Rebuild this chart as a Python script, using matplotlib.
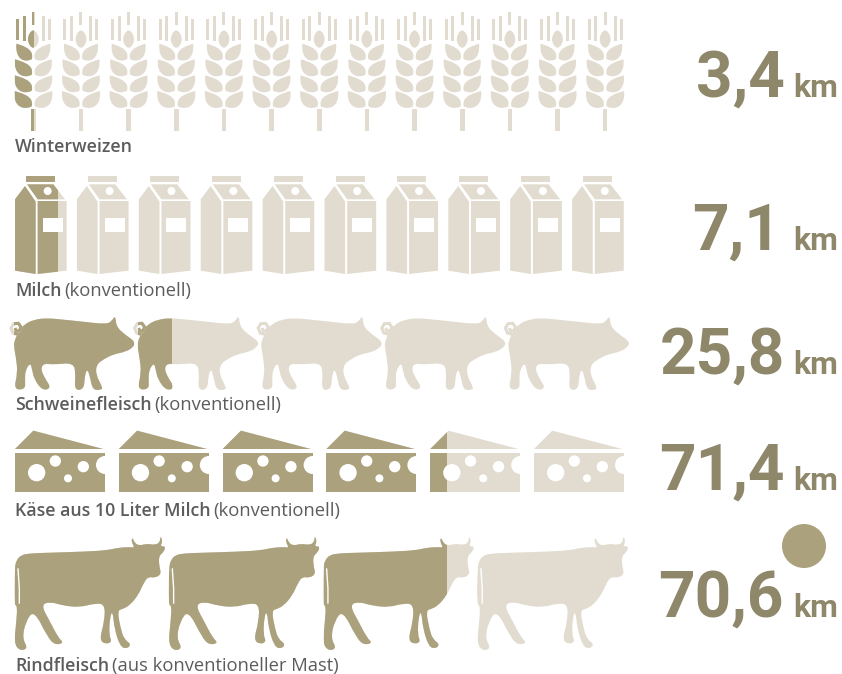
import matplotlib
matplotlib.use("Agg")
import matplotlib.pyplot as plt
from matplotlib.patches import Rectangle, Circle, PathPatch
from matplotlib.path import Path
from matplotlib.transforms import Affine2D

names_bold = ["Winterweizen", "Milch", "Schweinefleisch", "Käse aus 10 Liter Milch", "Rindfleisch"]
names_light = ["", "(konventionell)", "(konventionell)", "(konventionell)", "(aus konventioneller Mast)"]
values = ["3,4", "7,1", "25,8", "71,4", "70,6"]
unit = "km"
icon_counts = [13, 10, 5, 6, 4]
icon_fill = [0.50, 0.83, 1.29, 4.19, 2.82]

DARK, LIGHT, NUM, TXT = "#ABA17D", "#E1DCCF", "#8F8769", "#5C5C5C"
FONT = "Roboto"
LABEL_FONT = "Open Sans"

fig = plt.figure(figsize=(8.42, 6.74), dpi=100)
ax = fig.add_axes([0, 0, 1, 1])
ax.set_xlim(0, 842); ax.set_ylim(674, 0); ax.axis("off")


def smooth(pts):
    """Closed outline with rounded joins."""
    pts = pts[:-1] if pts[0] == pts[-1] else pts
    n = len(pts)
    mid = lambda a, b: ((a[0] + b[0]) / 2, (a[1] + b[1]) / 2)
    verts = [mid(pts[-1], pts[0])]
    codes = [Path.MOVETO]
    for i in range(n):
        verts += [pts[i], mid(pts[i], pts[(i + 1) % n])]
        codes += [Path.CURVE3, Path.CURVE3]
    verts.append(verts[0]); codes.append(Path.CLOSEPOLY)
    return Path(verts, codes)


def leaf(y0, side, wide):
    x = lambda v: 100 + side * v * wide
    verts = [(x(55), y0), (x(34), y0 + 6), (x(10), y0 + 14), (x(5), y0 + 30),
             (x(3), y0 + 38), (x(3), y0 + 44), (x(6), y0 + 47),
             (x(30), y0 + 58), (x(60), y0 + 46), (x(55), y0), (x(55), y0)]
    codes = [Path.MOVETO] + [Path.CURVE4] * 9 + [Path.CLOSEPOLY]
    return Path(verts, codes)


def bar(x, y0, y1, w=9):
    r = w / 2
    return Path([(x - r, y0), (x + r, y0), (x + r, y1), (x - r, y1), (x - r, y0)], closed=True)


wheat = [bar(52, 57, 120), bar(72, 47, 122), bar(100, 35, 76), bar(130, 47, 122), bar(148, 57, 120),
         smooth([(100, 82), (122, 118), (100, 152), (78, 118)]),
         bar(100, 326, 394, 14)]
for yy, ww in zip([131, 178, 226, 273], [.92, 1.0, 1.02, 1.03]):
    wheat += [leaf(yy, -1, ww), leaf(yy, 1, ww)]

milk = [Path([(45, 598), (75, 558), (107, 605), (107, 822), (45, 812), (45, 598)], closed=True),
        Path([(113, 603), (200, 603), (200, 812), (113, 822), (113, 603)], closed=True),
        Path([(81, 553), (160, 553), (195, 598), (113, 598), (81, 553)], closed=True),
        Path([(78, 528), (165, 528), (165, 546), (78, 546), (78, 528)], closed=True)]
milk_white = [("c", 143, 573, 12), ("r", 128, 655, 60, 42)]

pig_crop = [(11, 100), (14, 85), (26, 58), (44, 36), (72, 23), (110, 18), (160, 23), (210, 28), (290, 37),
            (306, 26), (316, 10), (319, 44), (345, 68), (376, 89), (370, 106), (345, 120), (310, 127), (282, 141),
            (259, 158), (258, 190), (278, 226), (274, 234), (248, 234), (240, 195), (232, 170), (224, 192), (222, 232),
            (193, 235), (197, 185), (190, 152), (130, 158), (102, 154), (92, 170), (104, 198), (124, 228), (98, 236),
            (73, 203), (66, 172), (61, 152), (46, 175), (45, 205), (46, 232), (11, 233), (23, 182), (18, 138), (11, 100)]
pig_xy = [(x + 30, y + 36) for x, y in pig_crop]
pig = [smooth(pig_xy)]
tail = Path([(54, 103), (39, 99), (33, 84), (41, 71), (55, 70), (63, 81), (58, 93), (48, 92), (45, 84)])

cheese = [Path([(45, 447), (100, 392), (310, 447), (45, 447)], closed=True),
          Path([(45, 458), (315, 458), (315, 575), (45, 575), (45, 458)], closed=True)]
cheese_white = [("c", 110, 518, 26), ("c", 166, 483, 17), ("c", 250, 500, 17), ("c", 204, 535, 12), ("c", 315, 495, 27)]

cow_xy = [(44, 125), (50, 105), (63, 90), (90, 85), (150, 83), (250, 80), (320, 76), (355, 68), (392, 66), (404, 68),
          (394, 50), (397, 36), (404, 54), (418, 62), (440, 56), (465, 60), (480, 52), (481, 31), (488, 50), (480, 65),
          (497, 63), (492, 80), (476, 94), (478, 125), (484, 147), (465, 159), (445, 155), (432, 172), (414, 212),
          (388, 242), (368, 252), (352, 257), (362, 310), (372, 342), (394, 358), (380, 372), (360, 364), (343, 310),
          (338, 258), (330, 275), (327, 330), (336, 350), (318, 358), (298, 345), (313, 290), (315, 238), (285, 235),
          (240, 247), (190, 242), (150, 230), (123, 240), (150, 290), (175, 338), (192, 354), (165, 360), (143, 337),
          (102, 255), (77, 290), (67, 340), (84, 370), (60, 378), (42, 355), (49, 290), (52, 242), (42, 240), (44, 125)]
cow = [smooth(cow_xy)]
cow_tail = Path([(54, 130), (58, 190), (58, 236)])

# shapes are outlined in 3x zoom units; each row has its own origin and pitch
rows = [
    dict(shapes=wheat, white=[], left=15, width=37, pitch=47.65, dy=0),
    dict(shapes=milk, white=milk_white, left=15, width=52, pitch=61.9, dy=0),
    dict(shapes=pig, white=[], left=14, width=120, pitch=123.6, dy=300, line=tail, lc=None),
    dict(shapes=cheese, white=cheese_white, left=15, width=90, pitch=103.8, dy=300),
    dict(shapes=cow, white=[], left=15, width=150, pitch=154.3, dy=525, line=cow_tail, lc="white"),
]

for row, n, fill in zip(rows, icon_counts, icon_fill):
    for i in range(n):
        dx = i * row["pitch"]
        tr = Affine2D().scale(1 / 3).translate(dx, row["dy"]) + ax.transData
        frac = min(max(fill - i, 0), 1)
        clip = Rectangle((row["left"] + dx, 0), frac * row["width"], 674, transform=ax.transData)
        for p in row["shapes"]:
            ax.add_patch(PathPatch(p, fc=LIGHT, ec="none", transform=tr))
            if frac > 0:
                d = PathPatch(p, fc=DARK, ec="none", transform=tr)
                ax.add_patch(d); d.set_clip_path(clip)
        ln = row.get("line")
        if ln is not None:
            if row.get("lc"):
                ax.add_patch(PathPatch(ln, fc="none", ec=row["lc"], lw=1.0, transform=tr))
            else:
                ax.add_patch(PathPatch(ln, fc="none", ec=LIGHT, lw=2.2, transform=tr))
                if frac > 0:
                    d = PathPatch(ln, fc="none", ec=DARK, lw=2.2, transform=tr)
                    ax.add_patch(d); d.set_clip_path(clip)
        for w in row["white"]:
            if w[0] == "c":
                ax.add_patch(Circle((w[1], w[2]), w[3], fc="white", ec="none", transform=tr))
            else:
                ax.add_patch(Rectangle((w[1], w[2]), w[3], w[4], fc="white", ec="none", transform=tr))

# labels
label_base = [152, 296, 410, 516, 671]
fig.canvas.draw()
rend = fig.canvas.get_renderer()
for b, l, y in zip(names_bold, names_light, label_base):
    t = ax.text(15, y, b, fontsize=12.8, family=LABEL_FONT, weight="semibold", color=TXT, va="baseline", ha="left")
    if l:
        ext = t.get_window_extent(rend)
        ax.text(ext.x1 + 3, y, l, fontsize=13.2, family=LABEL_FONT, weight="normal", color=TXT, va="baseline", ha="left")

# values
value_base = [97, 250, 374, 490, 617]
value_right = [785, 781, 785, 785, 784]
for v, y, r in zip(values, value_base, value_right):
    ax.text(r, y, v, fontsize=46, family=FONT, weight="bold", color=NUM, ha="right", va="baseline")
    ax.text(838, y, unit, fontsize=23, family=FONT, weight="bold", color=NUM, ha="right", va="baseline")

ax.add_patch(Circle((804, 546), 22, fc=DARK, ec="none"))
fig.savefig("out.png", dpi=100, facecolor="white")
